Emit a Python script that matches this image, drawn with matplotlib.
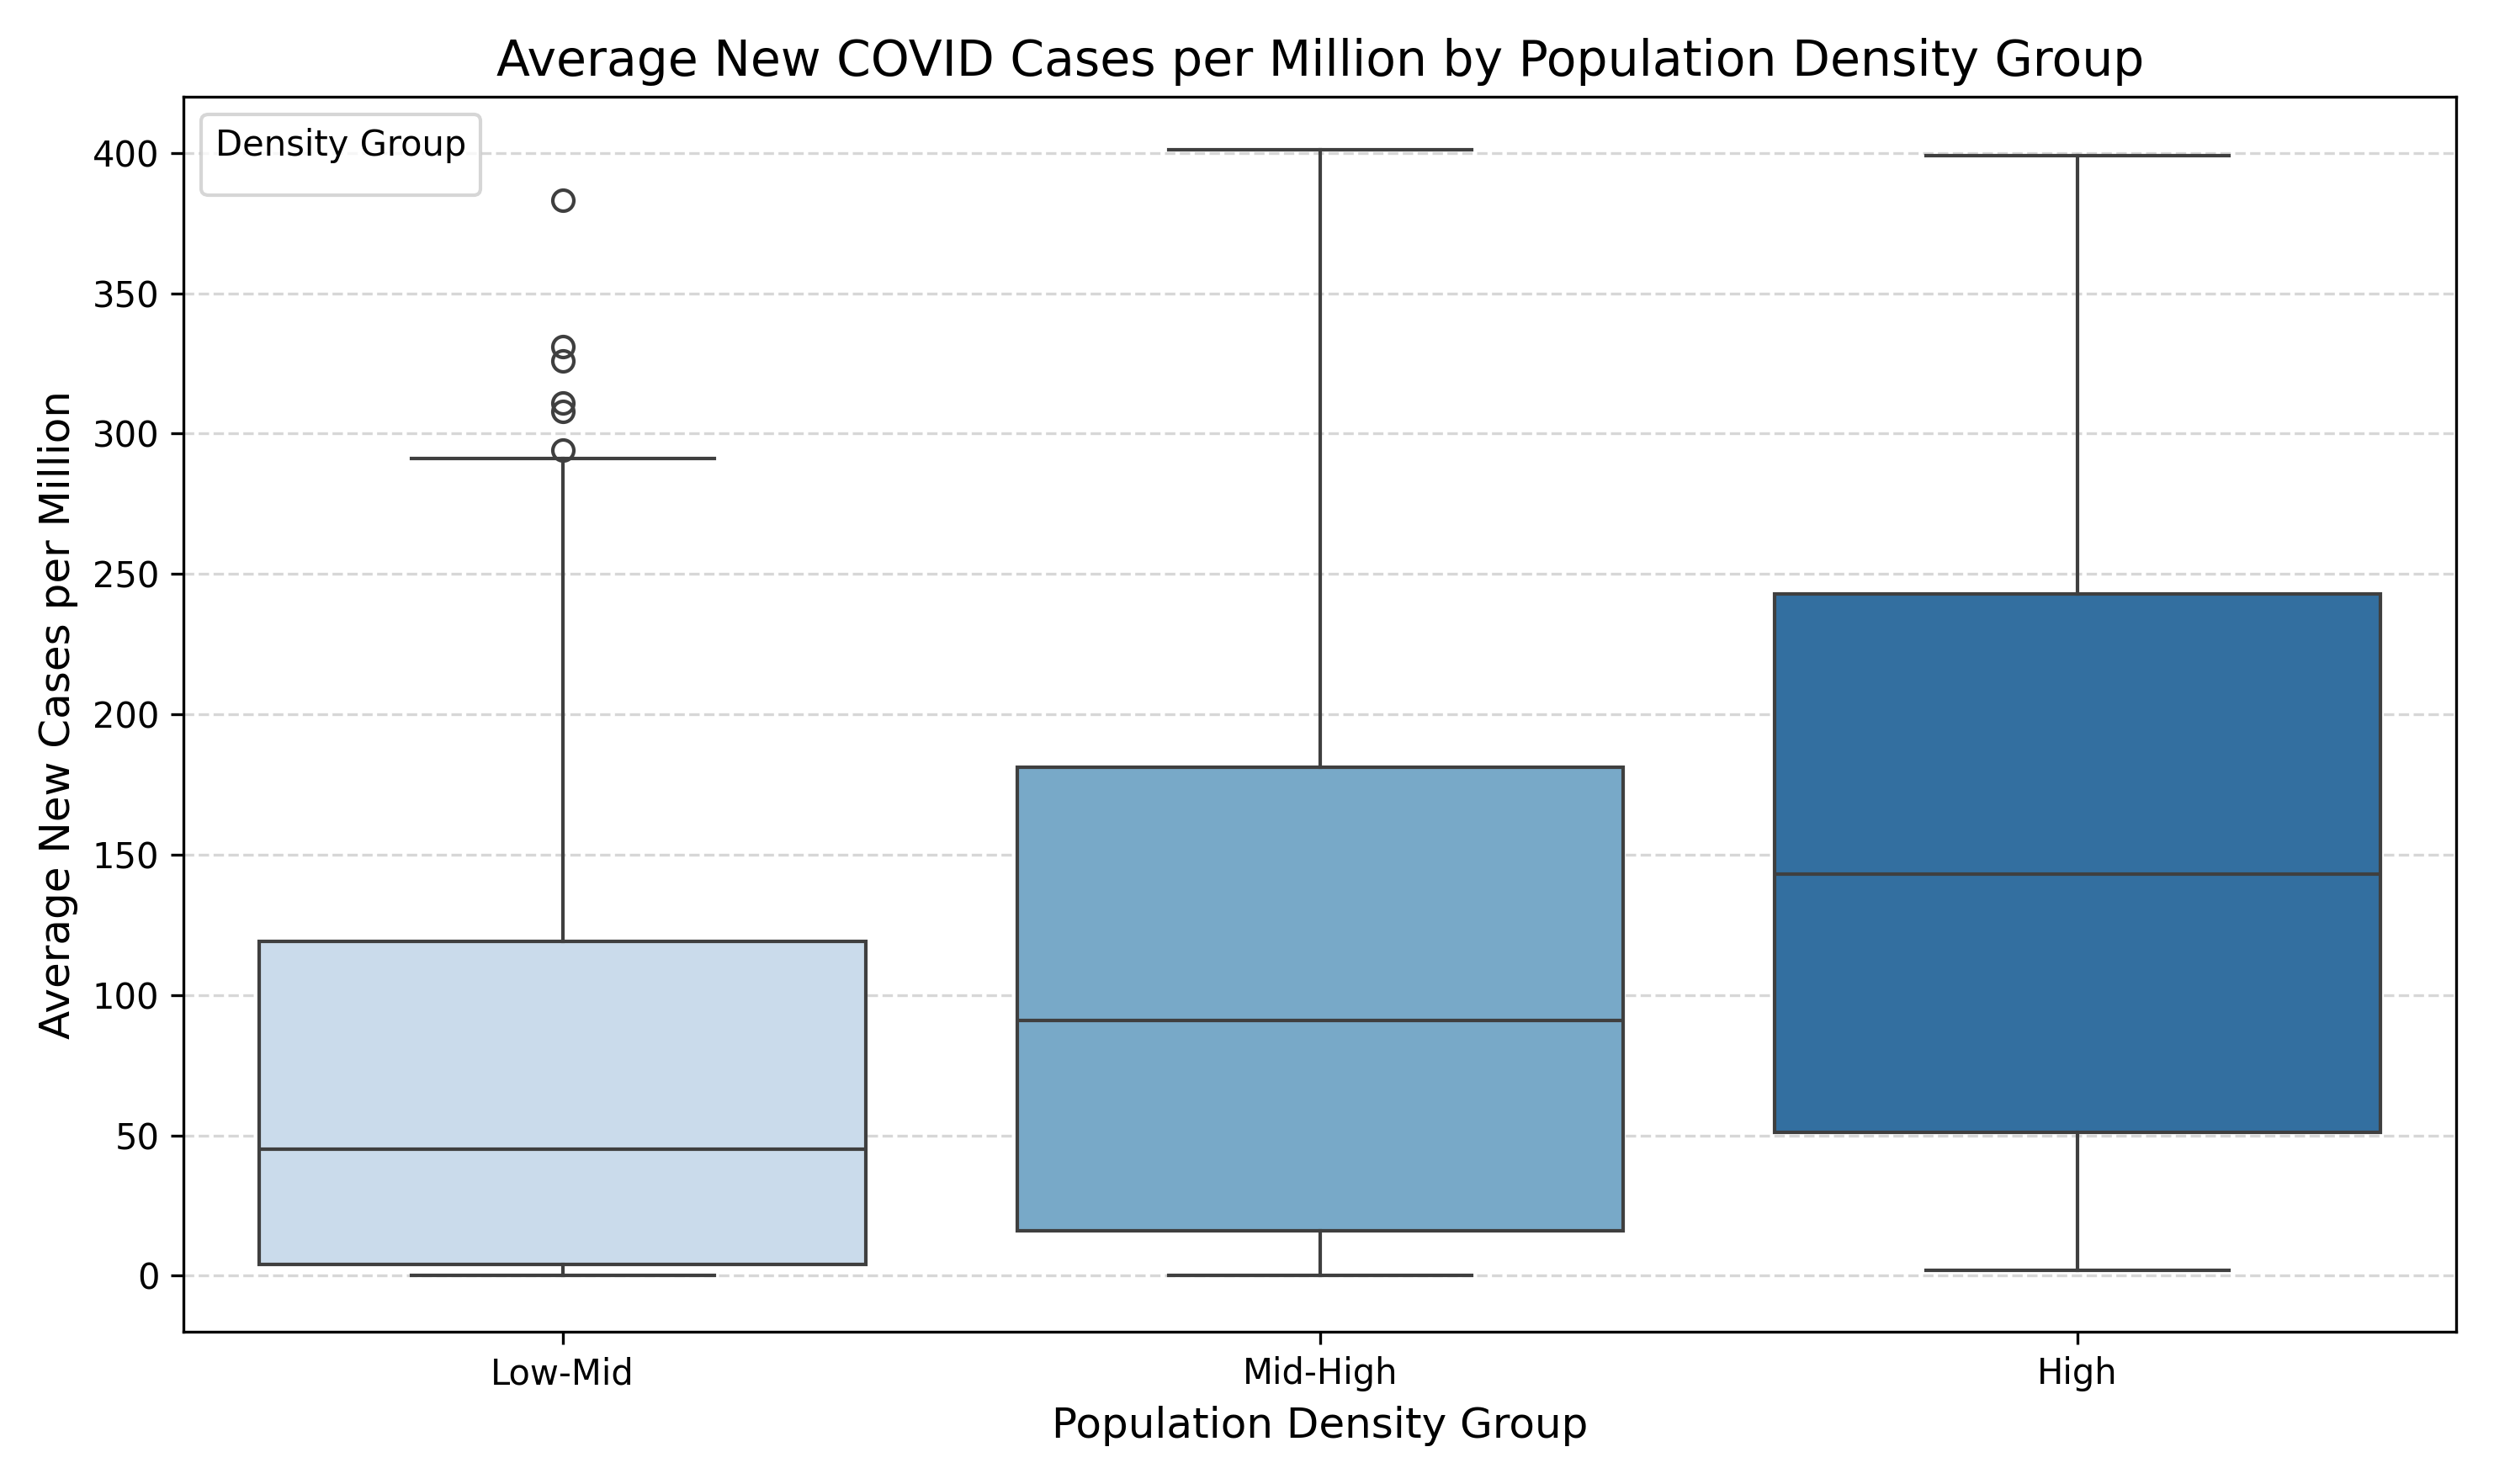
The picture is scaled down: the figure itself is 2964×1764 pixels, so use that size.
import matplotlib
matplotlib.use("Agg")
import matplotlib.pyplot as plt

# 箱ひげ図の統計値
groups = ["Low-Mid", "Mid-High", "High"]
whislo = [0, 0, 2]
q1 = [4, 16, 51]
med = [45, 91, 143]
q3 = [119, 181, 243]
whishi = [291, 401, 399]
fliers = [[294, 308, 311, 326, 331, 383], [], []]
colors = ["#cadbeb", "#78a9c8", "#336fa0"]

stats = [
    {"label": g, "whislo": a, "q1": b, "med": c, "q3": d, "whishi": e, "fliers": f}
    for g, a, b, c, d, e, f in zip(groups, whislo, q1, med, q3, whishi, fliers)
]

fig, ax = plt.subplots(figsize=(9.88, 5.88), dpi=300)
line = dict(color="#3f3f3f", linewidth=1.0)
bp = ax.bxp(stats, positions=range(len(groups)), widths=0.8, patch_artist=True,
            boxprops=dict(edgecolor="#3f3f3f", linewidth=1.0),
            medianprops=line, whiskerprops=line, capprops=line,
            flierprops=dict(marker="o", markerfacecolor="none", markeredgecolor="#3f3f3f", markersize=6),
            capwidths=0.4)
for patch, c in zip(bp["boxes"], colors):
    patch.set_facecolor(c)

ax.set_xlim(-0.5, 2.5)
ax.set_ylim(-20, 420)
ax.set_xticks(range(len(groups)))
ax.set_xticklabels(groups)
ax.grid(axis="y", linestyle="--", alpha=0.5)
ax.set_axisbelow(True)
ax.set_title("Average New COVID Cases per Million by Population Density Group", fontsize=14)
ax.set_xlabel("Population Density Group", fontsize=12)
ax.set_ylabel("Average New Cases per Million", fontsize=12)
ax.legend(handles=[], title="Density Group", loc="upper left")

plt.tight_layout()
plt.savefig("out.png", dpi=300)
